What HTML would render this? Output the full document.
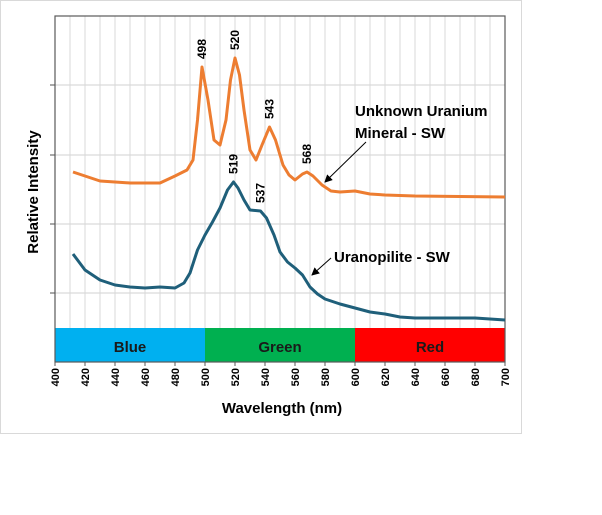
<!DOCTYPE html>
<html><head><meta charset="utf-8"><style>
html,body{margin:0;padding:0;background:#fff;}
svg{display:block;font-family:"Liberation Sans",Arial,sans-serif;}
</style></head><body>
<svg id="chart" width="602" height="515" viewBox="0 0 602 515">
<rect x="0.5" y="0.5" width="521" height="433" fill="#fff" stroke="#d9d9d9"/>
<g id="grid"></g>
<g id="bands"></g>
<rect x="55" y="16" width="450" height="346" fill="none" stroke="#595959" stroke-width="1.2"/>
<g id="series"></g>
<g id="xticks"></g>
<text x="282" y="413" text-anchor="middle" font-size="15" font-weight="bold">Wavelength (nm)</text>
<text transform="translate(38,192) rotate(-90)" text-anchor="middle" font-size="15" font-weight="bold">Relative Intensity</text>
<g id="peaks"></g>
<text x="355" y="116" font-size="15" font-weight="bold">Unknown Uranium</text>
<text x="355" y="138" font-size="15" font-weight="bold">Mineral - SW</text>
<text x="334" y="262" font-size="15" font-weight="bold">Uranopilite - SW</text>
<defs><marker id="ah" markerWidth="8" markerHeight="8" refX="7" refY="4" orient="auto"><path d="M0,0 L8,4 L0,8 z" fill="#000"/></marker></defs>
<line x1="366" y1="142" x2="325" y2="182" stroke="#000" stroke-width="1" marker-end="url(#ah)"/>
<line x1="331" y1="258" x2="312" y2="275" stroke="#000" stroke-width="1" marker-end="url(#ah)"/>
</svg>
<script>
const orangeX=[412,430,450,470,480,488,492,495,498,502,506,510,514,517,520,523,526,530,534,538,543,547,552,556,560,565,568,572,578,584,590,600,610,620,640,700];
const orangeY=[156,147,145,145,152,158,168,208,261,228,188,183,208,248,270,253,218,178,168,183,201,188,163,153,148,154,156,152,143,137,136,137,134,133,132,131];
const blueX=[412,420,430,440,450,460,470,480,486,490,495,500,505,510,515,519,522,526,530,537,541,546,550,555,560,565,570,575,580,590,600,610,620,630,640,660,680,690,700];
const blueY=[74,58,48,43,41,40,41,40,45,55,78,93,106,120,138,146,140,128,118,117,110,93,76,66,60,53,41,34,29,24,20,16,14,11,10,10,10,9,8];
const xTicks=[400,420,440,460,480,500,520,540,560,580,600,620,640,660,680,700];
const yGrid=[35,104,173,243];
const bandNames=["Blue","Green","Red"];
const bandStart=[400,500,600];
const bandEnd=[500,600,700];
const peakNm=[498,520,543,568,519,537];
const peakVal=[261,270,201,156,146,117];
const peakSeries=["o","o","o","o","b","b"];
const NS="http://www.w3.org/2000/svg";
const X=v=>55+(v-400)*1.5;
const Y=v=>328-v;
function mk(t,a,p){const e=document.createElementNS(NS,t);for(const k in a)e.setAttribute(k,a[k]);p.appendChild(e);return e;}
const grid=document.getElementById('grid');
for(let w=410;w<700;w+=10){
 const l=mk('line',{x1:X(w),x2:X(w),y1:16,y2:328,stroke:'#d9d9d9','stroke-width':1},grid);
 
 
}
yGrid.forEach(v=>{
 const l=mk('line',{x1:50,x2:505,y1:Y(v),y2:Y(v),stroke:'#d9d9d9','stroke-width':1.2},grid);
 
 
 const t=mk('line',{x1:50,x2:55,y1:Y(v),y2:Y(v),stroke:'#595959','stroke-width':1},grid);
 
 
});
const bands=document.getElementById('bands');
const colors=["#00b0f0","#00b050","#ff0000"];
bandNames.forEach((n,i)=>{
 const r=mk('rect',{x:X(bandStart[i]),y:328,width:X(bandEnd[i])-X(bandStart[i]),height:34,fill:colors[i]},bands);
 
 
 const t=mk('text',{x:(X(bandStart[i])+X(bandEnd[i]))/2,y:352,'text-anchor':'middle','font-size':15,'font-weight':'bold',fill:'#1a1a1a'},bands);
 t.textContent=n;
 
 
});
const xt=document.getElementById('xticks');
xTicks.forEach(v=>{
 const l=mk('line',{x1:X(v),x2:X(v),y1:362,y2:366,stroke:'#595959'},xt);
 
 
 const t=mk('text',{transform:`translate(${X(v)+4},368) rotate(-90)`,'text-anchor':'end','font-size':11,'font-weight':'bold',fill:'#000'},xt);
 t.textContent=v;
 
 
});
const sg=document.getElementById('series');
function path(xs,ys){return xs.map((x,i)=>(i?'L':'M')+X(x).toFixed(1)+','+Y(ys[i]).toFixed(1)).join(' ');}
const po=mk('path',{d:path(orangeX,orangeY),fill:'none',stroke:'#ed7d31','stroke-width':3,'stroke-linejoin':'round'},sg);


const pb=mk('path',{d:path(blueX,blueY),fill:'none',stroke:'#1f5f7a','stroke-width':3,'stroke-linejoin':'round'},sg);


const pk=document.getElementById('peaks');
peakNm.forEach((n,i)=>{
 const t=mk('text',{transform:`translate(${X(n)+4},${Y(peakVal[i])-8}) rotate(-90)`,'font-size':12,'font-weight':'bold',fill:'#000'},pk);
 t.textContent=n;
 
 
});
</script>
</body></html>
